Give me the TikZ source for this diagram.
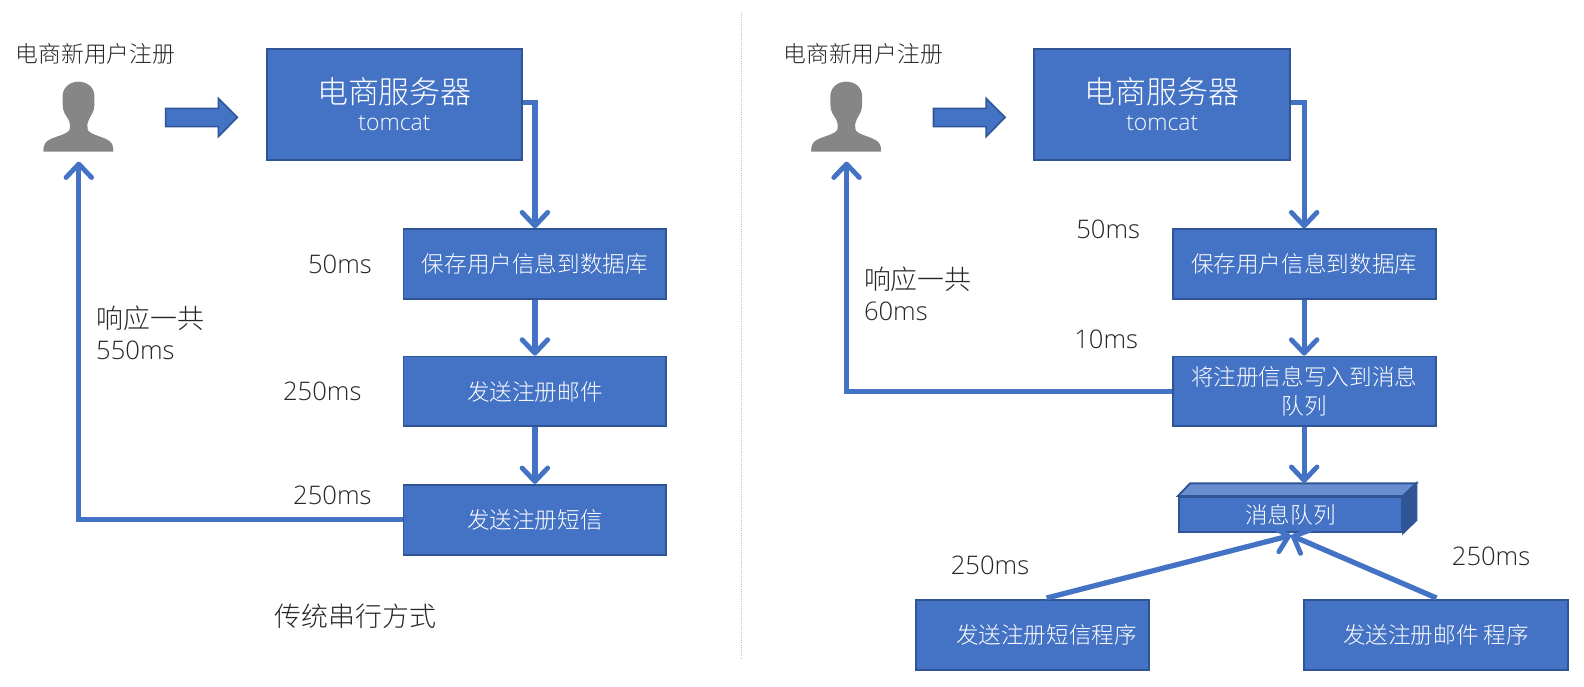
\documentclass[tikz,border=0pt]{standalone}
\usepackage{fontspec}
\setmainfont{Noto Sans CJK SC Light}
\newfontfamily\lat{Open Sans Light}
\usetikzlibrary{arrows.meta}
\definecolor{bl}{HTML}{4472C4}
\definecolor{bd}{HTML}{2F5597}
\definecolor{tx}{HTML}{262626}
\definecolor{grayp}{HTML}{868686}
\tikzset{
 x=0.75pt,y=-0.75pt,
 bx/.style={draw=bd,line width=1.4pt,fill=bl,text=white,anchor=north west,align=center,inner sep=0pt,font=\fontsize{16.8}{21}\selectfont},
 conn/.style={draw=bl,line width=3.9pt,-{Straight Barb[length=10pt,width=19pt,line width=3.6pt,round]}},
 lbl/.style={text=tx,inner sep=0pt,font=\fontsize{19}{24}\selectfont\lat},
 cn/.style={text=tx,inner sep=0pt,align=left,font=\fontsize{20}{24}\selectfont},
 usr/.style={text=tx,inner sep=0pt,font=\fontsize{16.9}{20}\selectfont},
}
\newcommand{\boxnode}[6]{\node[bx,minimum width=#4*0.75pt-1.4pt,minimum height=#5*0.75pt-1.4pt] (#1) at (#2,#3) {#6};}
\newcommand{\userfig}[2]{%
 \begin{scope}[shift={(#1,29.7)},x=0.2475pt,y=-0.2475pt]
 \fill[grayp] (130,365) .. controls (130,345) and (135,335) .. (150,328) .. controls (170,318) and (205,312) .. (209,298) .. controls (212,288) and (210,280) .. (205,268) .. controls (197,255) and (188,245) .. (188,225) -- (188,195) .. controls (190,170) and (212,155) .. (235,155) .. controls (260,155) and (281,170) .. (283,195) -- (283,225) .. controls (283,245) and (273,255) .. (267,268) .. controls (262,280) and (260,288) .. (263,298) .. controls (267,312) and (300,318) .. (320,328) .. controls (335,335) and (340,345) .. (340,365) -- cycle;
 \draw[bd,line width=1.2pt,fill=bl] (497,235) -- (655,235) -- (655,205) -- (712,262) -- (655,320) -- (655,290) -- (497,290) -- cycle;
 \end{scope}}
\begin{document}
\begin{tikzpicture}
\useasboundingbox (0,0) rectangle (1568,680);
\draw[black!25,line width=0.6pt,densely dotted] (734,13) -- (734,652);
% left
\node[usr] (u1) at (94.5,53) {电商新用户注册};
\userfig{0}{}
\coordinate (p1) at (78,160);
\boxnode{s1}{263}{48}{255}{111}{{\fontsize{23}{27}\selectfont 电商服务器}\\[-1pt]{\fontsize{17}{20}\selectfont\lat tomcat}}
\boxnode{a1}{398.5}{226}{262}{71}{保存用户信息到数据库}
\boxnode{a2}{398.5}{352}{262}{71}{发送注册邮件}
\boxnode{a3}{398.5}{479}{262}{71}{发送注册短信}
\draw[conn] (s1.east) ++(0,-2) -| (a1.north);
\draw[conn] (a1.south) -- (a2.north);
\draw[conn] (a2.south) -- (a3.north);
\draw[conn] (a3.west) -| (p1);
\node[lbl] (t1) at (336.5,262) {50ms};
\node[lbl] (t2) at (319,387) {250ms};
\node[lbl] (t3) at (329,490) {250ms};
\node[cn,anchor=north west] (t4) at (95,303) {响应一共\\[-1pt]{\fontsize{19}{24}\selectfont\lat 550ms}};
\node[cn] (t5) at (352,610) {传统串行方式};
% right
\node[usr] (u2) at (854.5,53) {电商新用户注册};
\userfig{760}{}
\coordinate (p2) at (838,160);
\boxnode{s2}{1023}{48}{255}{111}{{\fontsize{23}{27}\selectfont 电商服务器}\\[-1pt]{\fontsize{17}{20}\selectfont\lat tomcat}}
\boxnode{b1}{1160}{226}{262}{71}{保存用户信息到数据库}
\boxnode{b2}{1160}{352}{262}{71}{将注册信息写入到消息\\队列}
\draw[bd,line width=1.4pt,fill=bl!80!white] (1166,491) -- (1178,478.5) -- (1402,478.5) -- (1389,491) -- cycle;
\draw[bd,line width=1.4pt,fill=bd] (1389,491) -- (1402,478.5) -- (1402,515) -- (1389,527.6) -- cycle;
\boxnode{q}{1166}{491}{223}{36.6}{消息队列}
\boxnode{c1}{906}{593}{232}{71}{\hspace{21pt}发送注册短信程序}
\boxnode{c2}{1290}{593}{263}{71}{发送注册邮件 程序}
\coordinate (qtop) at (1291,478);
\coordinate (qbot) at (1278,530);
\draw[conn] (s2.east) ++(0,-2) -| (b1.north);
\draw[conn] (b1.south) -- (b2.north);
\draw[conn] (b2.south) -- (qtop);
\draw[conn] (b2.west) -| (p2);
\draw[conn] (1036,592) -- (qbot);
\draw[conn] (1422,592) -- (qbot);
\node[lbl] (r1) at (1097,227) {50ms};
\node[lbl] (r2) at (1095,336) {10ms};
\node[lbl] (r3) at (980,560) {250ms};
\node[lbl] (r4) at (1476,551) {250ms};
\node[cn,anchor=north west] (r5) at (855,264) {响应一共\\[-1pt]{\fontsize{19}{24}\selectfont\lat 60ms}};
\end{tikzpicture}
\end{document}
